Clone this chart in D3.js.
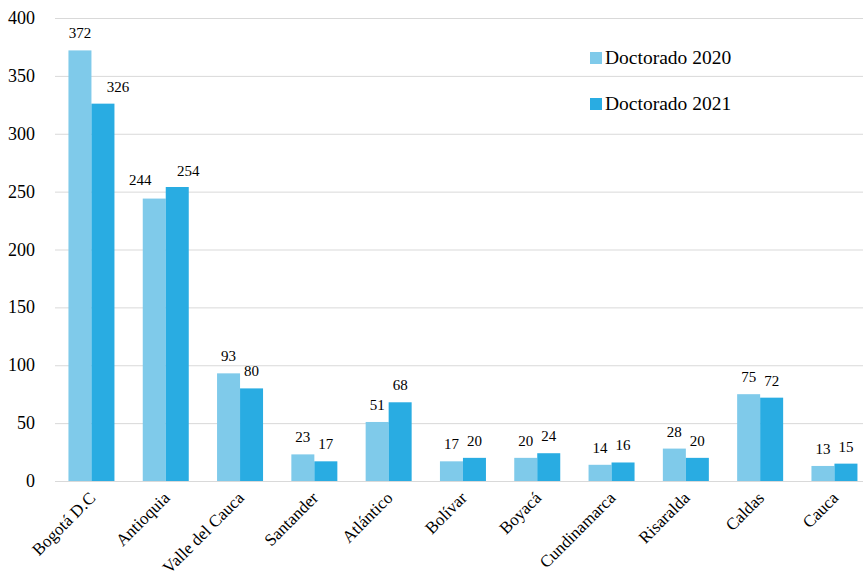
<!DOCTYPE html>
<html><head><meta charset="utf-8">
<script src="https://cdn.jsdelivr.net/npm/d3@7"></script>
<style>body{margin:0;background:#fff}svg{display:block}</style>
</head><body>
<svg id="c" width="863" height="575"></svg>
<script>
const categories = ["Bogotá D.C","Antioquia","Valle del Cauca","Santander","Atlántico","Bolívar","Boyacá","Cundinamarca","Risaralda","Caldas","Cauca"];
const series = ["Doctorado 2020","Doctorado 2021"];
const values2020 = [372,244,93,23,51,17,20,14,28,75,13];
const values2021 = [326,254,80,17,68,20,24,16,20,72,15];
const yTicks = [0,50,100,150,200,250,300,350,400];
const colors = ["#7fcaea","#29ace2"];

// manual nudges of a few value labels (layout only), keyed "category|seriesIndex"
const labelNudge = {"Bogotá D.C|1":[15,0], "Antioquia|0":[-14,-2], "Antioquia|1":[11,1]};

const svg = d3.select("#c");
const font = "'Liberation Serif','Times New Roman',serif";
const y = d3.scaleLinear().domain([0,400]).range([481,18]);
const x = d3.scaleBand().domain(categories).range([54.3,871.6]).paddingInner(0).paddingOuter(0);
const xs = d3.scaleBand().domain(series).range([x.bandwidth()/2-23, x.bandwidth()/2+23]);

// grid
svg.append("g").selectAll("line").data(yTicks).join("line")
  .attr("x1",55).attr("x2",863)
  .attr("y1",d=>y(d)+0.5).attr("y2",d=>y(d)+0.5)
  .attr("stroke","#d9d9d9").attr("stroke-width",1);
// y labels
svg.append("g").selectAll("text").data(yTicks).join("text")
  .attr("x",35).attr("y",d=>y(d)+6)
  .attr("text-anchor","end").attr("font-family",font).attr("font-size",18).attr("fill","#000")
  .text(d=>d);

const data = categories.map((c,i)=>({c, v:[values2020[i],values2021[i]]}));
const g = svg.append("g").selectAll("g").data(data).join("g")
  .attr("transform",d=>`translate(${x(d.c)},0)`);
const pts = d=>d.v.map((v,j)=>({c:d.c,s:series[j],v,j}));
g.selectAll("rect").data(pts).join("rect")
  .attr("x",d=>xs(d.s)).attr("width",xs.bandwidth())
  .attr("y",d=>y(d.v)).attr("height",d=>y(0)-y(d.v))
  .attr("fill",d=>colors[d.j]);
g.selectAll("text.v").data(pts).join("text")
  .attr("class","v")
  .attr("x",d=>xs(d.s)+xs.bandwidth()/2+((labelNudge[d.c+"|"+d.j]||[0,0])[0]))
  .attr("y",d=>y(d.v)-12+((labelNudge[d.c+"|"+d.j]||[0,0])[1]))
  .attr("text-anchor","middle").attr("font-family",font).attr("font-size",15).attr("fill","#000")
  .text(d=>d.v);
// category labels
g.append("text")
  .attr("transform",d=>`translate(${x.bandwidth()/2+5},499) rotate(-45)`)
  .attr("text-anchor","end").attr("font-family",font).attr("font-size",17).attr("fill","#000")
  .text(d=>d.c);

// legend
const lg = svg.append("g").selectAll("g").data(series).join("g")
  .attr("transform",(d,i)=>`translate(590,${52+i*46})`);
lg.append("rect").attr("width",12).attr("height",12).attr("fill",(d,i)=>colors[i]);
lg.append("text").attr("x",15).attr("y",12)
  .attr("font-family",font).attr("font-size",19.5).attr("fill","#000").text(d=>d);
</script>
</body></html>
